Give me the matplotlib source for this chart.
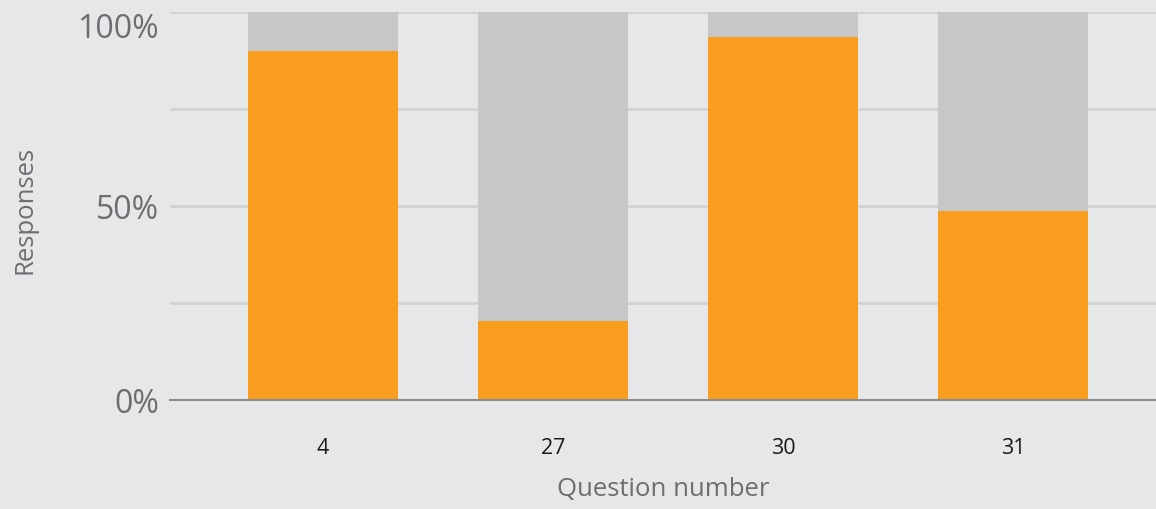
import matplotlib
matplotlib.use("Agg")
import matplotlib.pyplot as plt
from matplotlib.transforms import ScaledTranslation
import numpy as np

questions = ["4", "27", "30", "31"]
yes_share = [0.90, 0.204, 0.935, 0.487]
rest_share = [1 - v for v in yes_share]
ytick_vals = [0, 0.5, 1.0]
ytick_labels = ["0%", "50%", "100%"]

plt.rcParams['font.family'] = ['Open Sans', 'DejaVu Sans']
bg = "#e6e7e8"
fig = plt.figure(figsize=(11.56, 5.10), dpi=100, facecolor=bg)
ax = fig.add_axes([170/1156, 1 - 401/510, 1 - 170/1156, 388/510])
ax.set_facecolor(bg)

x = np.arange(len(questions))
for y in [0.25, 0.5, 0.75, 1.0]:
    ax.axhline(y, color="#d1d2d4", lw=2, zorder=0)
ax.bar(x, yes_share, width=0.652, color="#f89d1e", zorder=2)
ax.bar(x, rest_share, bottom=yes_share, width=0.652, color="#c6c7c9", zorder=2)

ax.set_xlim(-0.665, 3.622)
ax.set_ylim(0, 1.0)
for s in ["top", "right", "left"]:
    ax.spines[s].set_visible(False)
ax.spines["bottom"].set_color("#8c8c8c")
ax.spines["bottom"].set_linewidth(1.5)
ax.spines["bottom"].set_zorder(3)

ax.set_xticks(x)
ax.set_xticklabels(questions, fontsize=15.5, color="#1a1a1a")
ax.tick_params(axis="x", length=0, pad=27)
ax.set_yticks(ytick_vals)
ax.set_yticklabels(ytick_labels, fontsize=23, color="#6d6e71")
ax.tick_params(axis="y", length=0, pad=8)
top_lbl = ax.get_yticklabels()[-1]
top_lbl.set_transform(top_lbl.get_transform() + ScaledTranslation(0, -0.13, fig.dpi_scale_trans))

fig.text(663/1156, 1 - 490/510, "Question number", ha="center", va="center",
         fontsize=18.5, color="#6d6e71")
fig.text(25/1156, 1 - 210/510, "Responses", ha="center", va="center",
         rotation=90, fontsize=18.5, color="#6d6e71")

fig.savefig("out.png", dpi=100, facecolor=bg)
